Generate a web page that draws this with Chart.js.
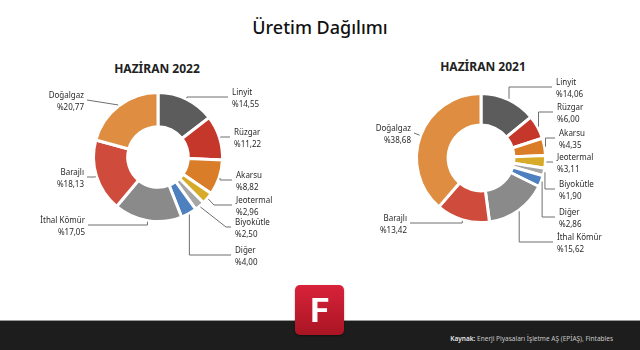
<!DOCTYPE html>
<html>
<head>
<meta charset="utf-8">
<script src="https://cdn.jsdelivr.net/npm/chart.js@4/dist/chart.umd.min.js"></script>
<style>
  body { margin: 0; width: 640px; height: 350px; background: #fff; position: relative; overflow: hidden; font-family: "Noto Sans", sans-serif; }
  #title { position: absolute; left: 0; width: 640px; top: 15px; text-align: center; font-size: 18px; font-weight: 500; color: #111; }
  .sub { position: absolute; width: 200px; text-align: center; font-size: 12px; font-weight: 700; color: #222; }
  .box { position: absolute; top: 0; width: 320px; height: 320px; }
  #footer { position: absolute; left: 0; top: 320px; width: 640px; height: 30px; background: #1d1d1d; border-top: 1px solid #9a9a9a; }
  #logo { position: absolute; left: 295px; top: 285px; width: 49px; height: 50px; border-radius: 5px; background: linear-gradient(#d8223a, #a91523); color: #fff; font: 700 34px Roboto, sans-serif; text-align: center; line-height: 50px; box-shadow: 0 1px 2px rgba(0,0,0,0.4); }
  #source { position: absolute; right: 27px; top: 334px; font-size: 6.5px; color: #c8c8c8; }
  #source b { color: #e6e6e6; font-weight: 600; }
</style>
</head>
<body>
<div id="title">Üretim Dağılımı</div>
<div class="sub" style="left:57px; top:60px;">HAZİRAN 2022</div>
<div class="sub" style="left:383px; top:58px;">HAZİRAN 2021</div>
<div class="box" style="left:0"><canvas id="chart2022"></canvas></div>
<div class="box" style="left:320px"><canvas id="chart2021"></canvas></div>
<div id="footer"></div>
<div id="logo">F</div>
<div id="source"><b>Kaynak:</b> Enerji Piyasaları İşletme AŞ (EPİAŞ), Fintables</div>

<script>
// Data

const categories = ["Linyit", "Rüzgar", "Akarsu", "Jeotermal", "Biyokütle", "Diğer", "İthal Kömür", "Barajlı", "Doğalgaz"];
const values2022 = [14.55, 11.22, 8.82, 2.96, 2.50, 4.00, 17.05, 18.13, 20.77];
const values2021 = [14.06, 6.00, 4.35, 3.11, 1.90, 2.86, 15.62, 13.42, 38.68];

const sliceColors = ["#5c5c5c", "#c5372a", "#d97d28", "#d8aa2a", "#a6a6a6", "#4c80bf", "#8a8a8a", "#cf4b3c", "#de8d41"];

// Leader line ends, relative to the donut centre: [x, y, mode]
// "v" = go straight up/down first, "d" = direct line, or a knee point [kx, ky]
const leaders2022 = [
	[70, -60, "v"], [72, -20, "v"], [74, 23, "v"], [74, 48, [56, 48]], [73, 70, [68, 70]],
	[73, 98, "v"], [-70, 68, "v"], [-71, 20, "v"], [-71, -57, "d"]
];
const leaders2021 = [
	[71, -71, "v"], [72, -46, "v"], [74, -20, "v"], [72, 4, "v"], [74, 31, "v"],
	[74, 59, "v"], [72, 84, "v"], [-71, 65, "v"], [-67, -25, "d"]
];

function pct(v) {
	return "%" + v.toFixed(2).replace(".", ",");
}

// draw labels with leader lines
const leaderLabels = {
	id: "leaderLabels",
	afterDraw(chart, args, opts) {
		const ctx = chart.ctx;
		const arcs = chart.getDatasetMeta(0).data;
		const values = chart.data.datasets[0].data;
		ctx.save();
		arcs.forEach(function (arc, i) {
			const p = arc.getProps(["x", "y", "startAngle", "endAngle", "outerRadius"], true);
			const mid = (p.startAngle + p.endAngle) / 2;
			const sx = p.x + Math.cos(mid) * (p.outerRadius + 1);
			const sy = p.y + Math.sin(mid) * (p.outerRadius + 1);
			const l = opts.leaders[i];
			const ex = p.x + l[0];
			const ey = p.y + l[1];
			ctx.strokeStyle = "#6f6f6f";
			ctx.lineWidth = 1;
			ctx.beginPath();
			ctx.moveTo(sx, sy);
			if (l[2] === "v") {
				ctx.lineTo(sx, ey);
			} else if (Array.isArray(l[2])) {
				ctx.lineTo(p.x + l[2][0], p.y + l[2][1]);
			}
			ctx.lineTo(ex, ey);
			ctx.stroke();

			const right = l[0] > 0;
			ctx.textAlign = right ? "left" : "right";
			ctx.textBaseline = "middle";
			ctx.fillStyle = "#2a2a2a";
			ctx.font = "8px 'Noto Sans'";
			const tx = right ? ex + 4 : ex - 3;
			ctx.fillText(chart.data.labels[i], tx, ey - 4);
			ctx.fillText(pct(values[i]), tx, ey + 8);
		});
		ctx.restore();
	}
};

function makeDonut(id, values, leaders, cutout, padding) {
	new Chart(document.getElementById(id), {
		type: "doughnut",
		data: {
			labels: categories,
			datasets: [
				{
					data: values,
					backgroundColor: sliceColors,
					borderColor: "#ffffff",
					borderWidth: 3,
					hoverOffset: 0,
				},
			],
		},
		options: {
			responsive: true,
			maintainAspectRatio: false,
			animation: false,
			cutout: cutout,
			layout: { padding: padding },
			plugins: {
				legend: { display: false },
				tooltip: { enabled: false },
				leaderLabels: { leaders: leaders },
			},
		},
		plugins: [leaderLabels],
	});
}

makeDonut("chart2022", values2022, leaders2022, "47%", { left: 92, right: 96, top: 91, bottom: 97 });
makeDonut("chart2021", values2021, leaders2021, "51%", { left: 95, right: 93, top: 92, bottom: 96 });
</script>
</body>
</html>
